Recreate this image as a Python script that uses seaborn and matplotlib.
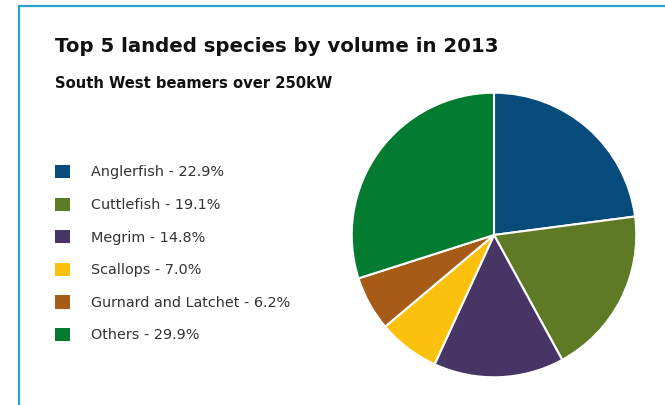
import matplotlib
matplotlib.use("Agg")
import matplotlib.pyplot as plt
from matplotlib.patches import Patch
from matplotlib.lines import Line2D
import seaborn as sns

species = ["Anglerfish", "Cuttlefish", "Megrim", "Scallops", "Gurnard and Latchet", "Others"]
shares = [22.9, 19.1, 14.8, 7.0, 6.2, 29.9]
colors = ["#064b7a", "#5f7a25", "#473565", "#fcc10d", "#a65b17", "#037c31"]
title = "Top 5 landed species by volume in 2013"
subtitle = "South West beamers over 250kW"

sns.set_theme(style="white")
plt.rcParams["font.family"] = ["DejaVu Sans"]
palette = sns.color_palette(colors)

W, H = 665, 405
fig = plt.figure(figsize=(W / 100, H / 100), dpi=100)
fig.patch.set_facecolor("white")

cx, cy, r = 494, 235, 143
ax = fig.add_axes([(cx - r) / W, (H - cy - r) / H, 2 * r / W, 2 * r / H])
wedges, _ = ax.pie(shares, colors=palette, startangle=90, counterclock=False,
                   radius=1.0, wedgeprops=dict(edgecolor="white", linewidth=1.5))
ax.set_xlim(-1.005, 1.005)
ax.set_ylim(-1.005, 1.005)
ax.set_aspect("equal")
ax.axis("off")

# frame lines
fig.add_artist(Line2D([19 / W, 1], [1 - 6 / H, 1 - 6 / H], color="#27a3cc", lw=1.6, transform=fig.transFigure))
fig.add_artist(Line2D([19 / W, 19 / W], [0, 1 - 6 / H], color="#27a3cc", lw=1.6, transform=fig.transFigure))

fig.text(55 / W, 1 - 47 / H, title, fontsize=14.25, fontweight="bold", color="#111111", va="center", ha="left")
fig.text(55 / W, 1 - 83 / H, subtitle, fontsize=10.6, fontweight="bold", color="#111111", va="center", ha="left")

handles = [Patch(facecolor=c, edgecolor="none") for c in palette]
labels = [f"{s} - {v:.1f}%" for s, v in zip(species, shares)]
leg = fig.legend(handles, labels, loc="upper left", bbox_to_anchor=(55 / W, 1 - 165 / H),
                 frameon=False, fontsize=10.35, handlelength=1.03, handleheight=1.03,
                 handletextpad=1.45, labelspacing=1.26, borderaxespad=0, borderpad=0)
for t in leg.get_texts():
    t.set_color("#333333")

fig.savefig("out.png", dpi=100, facecolor="white")
